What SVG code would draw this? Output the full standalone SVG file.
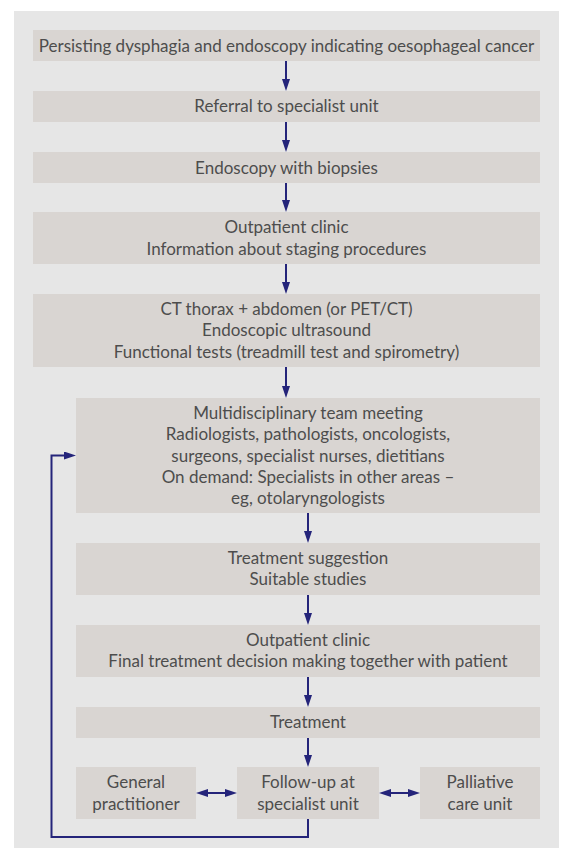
<svg xmlns="http://www.w3.org/2000/svg" width="562" height="848" viewBox="0 0 562 848">
<style>
.box{fill:#d9d5d2}
.t{font-family:Lato,"Liberation Sans",sans-serif;font-size:17px;fill:#4d4d4d;text-anchor:middle}
.c{fill:none;stroke:#24247a;stroke-width:2}
</style>
<defs>
<marker id="ah" markerUnits="userSpaceOnUse" markerWidth="12" markerHeight="8" refX="6" refY="4" orient="auto-start-reverse">
<path d="M0,0 L12,4 L0,8 z" fill="#24247a"/>
</marker>
</defs>
<rect x="14" y="11" width="545" height="837" fill="#e6e6e6"/>
<g id="n1"><rect class="box" x="33" y="30" width="507" height="31"/><text class="t" x="286.5" y="51.5">Persisting dysphagia and endoscopy indicating oesophageal cancer</text></g>
<g id="n2"><rect class="box" x="33" y="91" width="507" height="31"/><text class="t" x="286.5" y="112">Referral to specialist unit</text></g>
<g id="n3"><rect class="box" x="33" y="152" width="507" height="31"/><text class="t" x="286.5" y="173.5">Endoscopy with biopsies</text></g>
<g id="n4"><rect class="box" x="33" y="212" width="507" height="52"/><text class="t" x="286.5" y="232.5">Outpatient clinic</text><text class="t" x="286.5" y="254.5">Information about staging procedures</text></g>
<g id="n5"><rect class="box" x="33" y="294" width="507" height="73"/><text class="t" x="286.5" y="315">CT thorax + abdomen (or PET/CT)</text><text class="t" x="286.5" y="336">Endoscopic ultrasound</text><text class="t" x="286.5" y="357.5">Functional tests (treadmill test and spirometry)</text></g>
<g id="n6"><rect class="box" x="76" y="398" width="464" height="115"/><text class="t" x="308" y="418.5">Multidisciplinary team meeting</text><text class="t" x="308" y="440">Radiologists, pathologists, oncologists,</text><text class="t" x="308" y="461.5">surgeons, specialist nurses, dietitians</text><text class="t" x="308" y="482.5">On demand: Specialists in other areas –</text><text class="t" x="308" y="503.5">eg, otolaryngologists</text></g>
<g id="n7"><rect class="box" x="76" y="543" width="464" height="52"/><text class="t" x="308" y="563.5">Treatment suggestion</text><text class="t" x="308" y="584.5">Suitable studies</text></g>
<g id="n8"><rect class="box" x="76" y="625" width="464" height="52"/><text class="t" x="308" y="646">Outpatient clinic</text><text class="t" x="308" y="667">Final treatment decision making together with patient</text></g>
<g id="n9"><rect class="box" x="76" y="707" width="464" height="31"/><text class="t" x="308" y="727.5">Treatment</text></g>
<g id="n10"><rect class="box" x="76" y="767" width="120" height="52"/><text class="t" x="136" y="788">General</text><text class="t" x="136" y="809.5">practitioner</text></g>
<g id="n11"><rect class="box" x="237" y="767" width="142" height="52"/><text class="t" x="308" y="788">Follow-up at</text><text class="t" x="308" y="809.5">specialist unit</text></g>
<g id="n12"><rect class="box" x="420" y="767" width="120" height="52"/><text class="t" x="480" y="788">Palliative</text><text class="t" x="480" y="809.5">care unit</text></g>
<g id="connectors">
<line class="c" x1="286" y1="61" x2="286" y2="85" marker-end="url(#ah)"/>
<line class="c" x1="286" y1="122" x2="286" y2="146" marker-end="url(#ah)"/>
<line class="c" x1="286" y1="183" x2="286" y2="206" marker-end="url(#ah)"/>
<line class="c" x1="286" y1="264" x2="286" y2="288" marker-end="url(#ah)"/>
<line class="c" x1="286" y1="367" x2="286" y2="392" marker-end="url(#ah)"/>
<line class="c" x1="308" y1="513" x2="308" y2="537" marker-end="url(#ah)"/>
<line class="c" x1="308" y1="595" x2="308" y2="619" marker-end="url(#ah)"/>
<line class="c" x1="308" y1="677" x2="308" y2="701" marker-end="url(#ah)"/>
<line class="c" x1="308" y1="738" x2="308" y2="761" marker-end="url(#ah)"/>
<line class="c" x1="202" y1="793" x2="231" y2="793" marker-start="url(#ah)" marker-end="url(#ah)"/>
<line class="c" x1="385" y1="793" x2="414" y2="793" marker-start="url(#ah)" marker-end="url(#ah)"/>
<path class="c" d="M308,819 V837 H51.5 V455.5 H70" marker-end="url(#ah)"/>
</g>
</svg>
